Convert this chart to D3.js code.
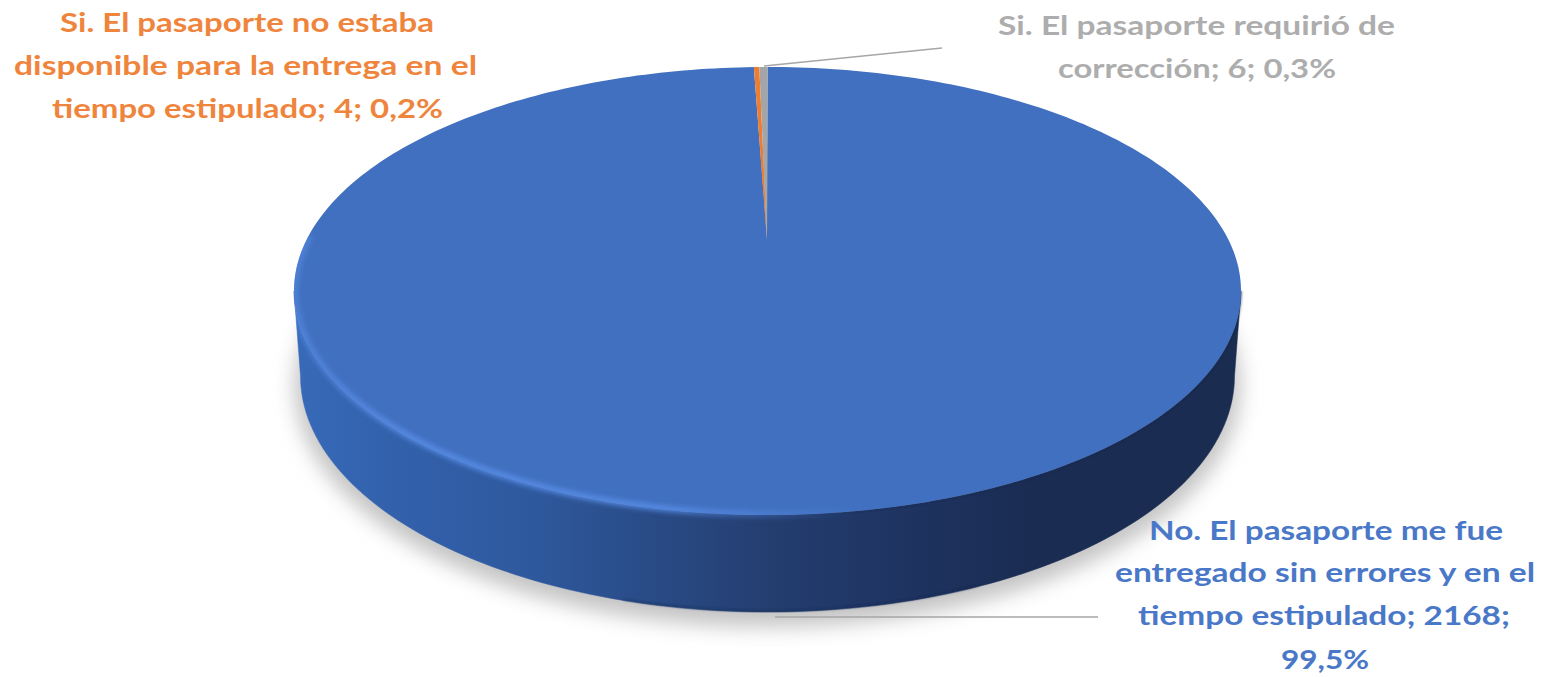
<!DOCTYPE html>
<html lang="es">
<head>
<meta charset="utf-8">
<title>Entrega del pasaporte</title>
<script src="https://cdn.jsdelivr.net/npm/d3@7"></script>
<style>
  html, body { margin: 0; padding: 0; background: #fff; }
  svg { display: block; }
  text { font-family: Lato, "Open Sans", sans-serif; font-weight: 700; text-anchor: middle; }
</style>
</head>
<body>
<svg id="chart" width="1548" height="677"></svg>
<script>
// Respuestas a la encuesta sobre la entrega del pasaporte
const categories = [
  "No. El pasaporte me fue entregado sin errores y en el tiempo estipulado",
  "Si. El pasaporte no estaba disponible para la entrega en el tiempo estipulado",
  "Si. El pasaporte requirió de corrección"
];
const counts = [2168, 4, 6];
const sliceColors = ["#4170c0", "#ed7d31", "#a5a5a5"];

// Etiquetas de datos, línea por línea
const labelLines = [
  ["No. El pasaporte me fue", "entregado sin errores y en el", "tiempo estipulado; 2168;", "99,5%"],
  ["Si. El pasaporte no estaba", "disponible para la entrega en el", "tiempo estipulado; 4; 0,2%"],
  ["Si. El pasaporte requirió de", "corrección; 6; 0,3%"]
];
const labelColors = ["#4a78c8", "#ef853d", "#adadad"];
const labelCenters = [
  [1326, 1325, 1324, 1325],
  [247, 245.5, 247.5],
  [1196.5, 1197]
];
const labelWidths = [
  [354, 420, 372, 88],
  [374, 463, 391],
  [397, 278]
];
const labelBaselines = [
  [540, 582, 625, 669],
  [32, 75, 118],
  [35, 78]
];
const fontSize = 26;

// Geometría del disco en perspectiva
const top3d = { cx: 767.5, cy: 291, rx: 473.5, ry: 224 };
const base3d = { cx: 767.5, cy: 376, rx: 467, ry: 236 };
const apex = [767, 240];
const leaders = [
  [[775, 617], [1098, 617]],
  [[764, 66], [942, 48]]
];

const svg = d3.select("#chart");
const defs = svg.append("defs");

const rim = (e, a) => [e.cx + e.rx * Math.sin(a), e.cy - e.ry * Math.cos(a)];
const sweep = (e, a0, a1, n) => d3.range(n + 1).map(i => rim(e, a0 + (a1 - a0) * i / n));
const line = d3.line();

defs.append("filter").attr("id", "shadowBlur")
  .attr("x", "-10%").attr("y", "-10%").attr("width", "120%").attr("height", "120%")
  .append("feGaussianBlur").attr("stdDeviation", 10);
defs.append("filter").attr("id", "glowBlur")
  .attr("filterUnits", "userSpaceOnUse")
  .attr("x", 250).attr("y", 150).attr("width", 800).attr("height", 420)
  .append("feGaussianBlur").attr("stdDeviation", 2.6);
defs.append("filter").attr("id", "edgeBlur")
  .attr("x", "-5%").attr("y", "-5%").attr("width", "110%").attr("height", "110%")
  .append("feGaussianBlur").attr("stdDeviation", 0.8);

// Lateral: se oscurece de izquierda a derecha
const sideGrad = defs.append("linearGradient").attr("id", "sideGrad")
  .attr("gradientUnits", "userSpaceOnUse")
  .attr("x1", 294).attr("x2", 1241).attr("y1", 0).attr("y2", 0);
[[0, "#376ab9"], [0.1, "#3361ac"], [0.25, "#2e599e"], [0.35, "#2a4e8b"],
 [0.5, "#243e70"], [0.65, "#1e3360"], [0.78, "#1a2c52"], [1, "#1a2c50"]]
  .forEach(([o, c]) => sideGrad.append("stop").attr("offset", o).attr("stop-color", c));

// Brillo del borde frontal, más intenso en la parte central izquierda
const glowGrad = defs.append("linearGradient").attr("id", "glowGrad")
  .attr("gradientUnits", "userSpaceOnUse")
  .attr("x1", 294).attr("x2", 860).attr("y1", 0).attr("y2", 0);
[[0, 0.55], [0.2, 0.85], [0.65, 0.85], [1, 0]]
  .forEach(([o, a]) => glowGrad.append("stop").attr("offset", o)
    .attr("stop-color", "#5a90ea").attr("stop-opacity", a));

// Contorno exterior del disco, usado para recortar el brillo
const front = sweep(top3d, Math.PI * 1.5, Math.PI * 0.5, 120);
const back = sweep(base3d, Math.PI * 0.5, Math.PI * 1.5, 120);
const upper = sweep(top3d, Math.PI * 1.5, Math.PI * 2.5, 120);
defs.append("clipPath").attr("id", "discClip")
  .append("path").attr("d", line(back.concat(upper)) + "Z");

// Sombra sobre el fondo
svg.append("path")
  .attr("d", line(sweep({ ...base3d, cy: base3d.cy + 10, rx: base3d.rx + 6, ry: base3d.ry + 5 }, 0, 2 * Math.PI, 180)) + "Z")
  .attr("fill", "#c4c4c4").attr("filter", "url(#shadowBlur)");

// Cuerpo lateral
svg.append("path")
  .attr("d", line(front.concat(back)) + "Z")
  .attr("fill", "url(#sideGrad)")
  .attr("stroke", "url(#sideGrad)").attr("stroke-width", 0.5);

// Línea oscura en la base
svg.append("path")
  .attr("d", line(sweep({ ...base3d, ry: base3d.ry - 1, rx: base3d.rx - 1 }, Math.PI * 0.85, Math.PI * 1.1, 40)))
  .attr("fill", "none").attr("stroke", "#152448").attr("stroke-opacity", 0.4)
  .attr("stroke-width", 2).attr("filter", "url(#edgeBlur)");

// Cara superior a partir de los valores
const pie = d3.pie().sort(null).value(d => d);
const arcs = pie(counts);
const wedge = d => {
  const n = Math.max(2, Math.ceil((d.endAngle - d.startAngle) * 60));
  return line([apex].concat(sweep(top3d, d.startAngle, d.endAngle, n))) + "Z";
};

// Sombra en el borde derecho de la cara
svg.append("path")
  .attr("d", line(sweep(top3d, Math.PI * 0.5, Math.PI * 1.05, 80)))
  .attr("fill", "none").attr("stroke", "#1a2c52").attr("stroke-width", 2)
  .attr("stroke-opacity", 0.5).attr("filter", "url(#edgeBlur)");

svg.append("g").selectAll("path").data(arcs).join("path")
  .attr("d", wedge)
  .attr("fill", (d, i) => sliceColors[i]);

// Brillo
svg.append("g").attr("clip-path", "url(#discClip)")
  .append("path")
  .attr("d", line(sweep({ ...top3d, rx: top3d.rx - 1, ry: top3d.ry - 1 }, Math.PI * 1.58, Math.PI * 0.93, 110)))
  .attr("fill", "none").attr("stroke", "url(#glowGrad)").attr("stroke-width", 6)
  .attr("filter", "url(#glowBlur)");

// Líneas guía
svg.append("g").selectAll("path").data(leaders).join("path")
  .attr("d", d => line(d))
  .attr("fill", "none").attr("stroke", "#a6a6a6").attr("stroke-width", 1.5);

// Etiquetas
labelLines.forEach((lines, i) => {
  svg.append("g").selectAll("text").data(lines).join("text")
    .attr("x", (d, j) => labelCenters[i][j])
    .attr("y", (d, j) => labelBaselines[i][j])
    .attr("font-size", fontSize)
    .attr("fill", labelColors[i])
    .attr("textLength", (d, j) => labelWidths[i][j])
    .attr("lengthAdjust", "spacingAndGlyphs")
    .text(d => d);
});
</script>
</body>
</html>
